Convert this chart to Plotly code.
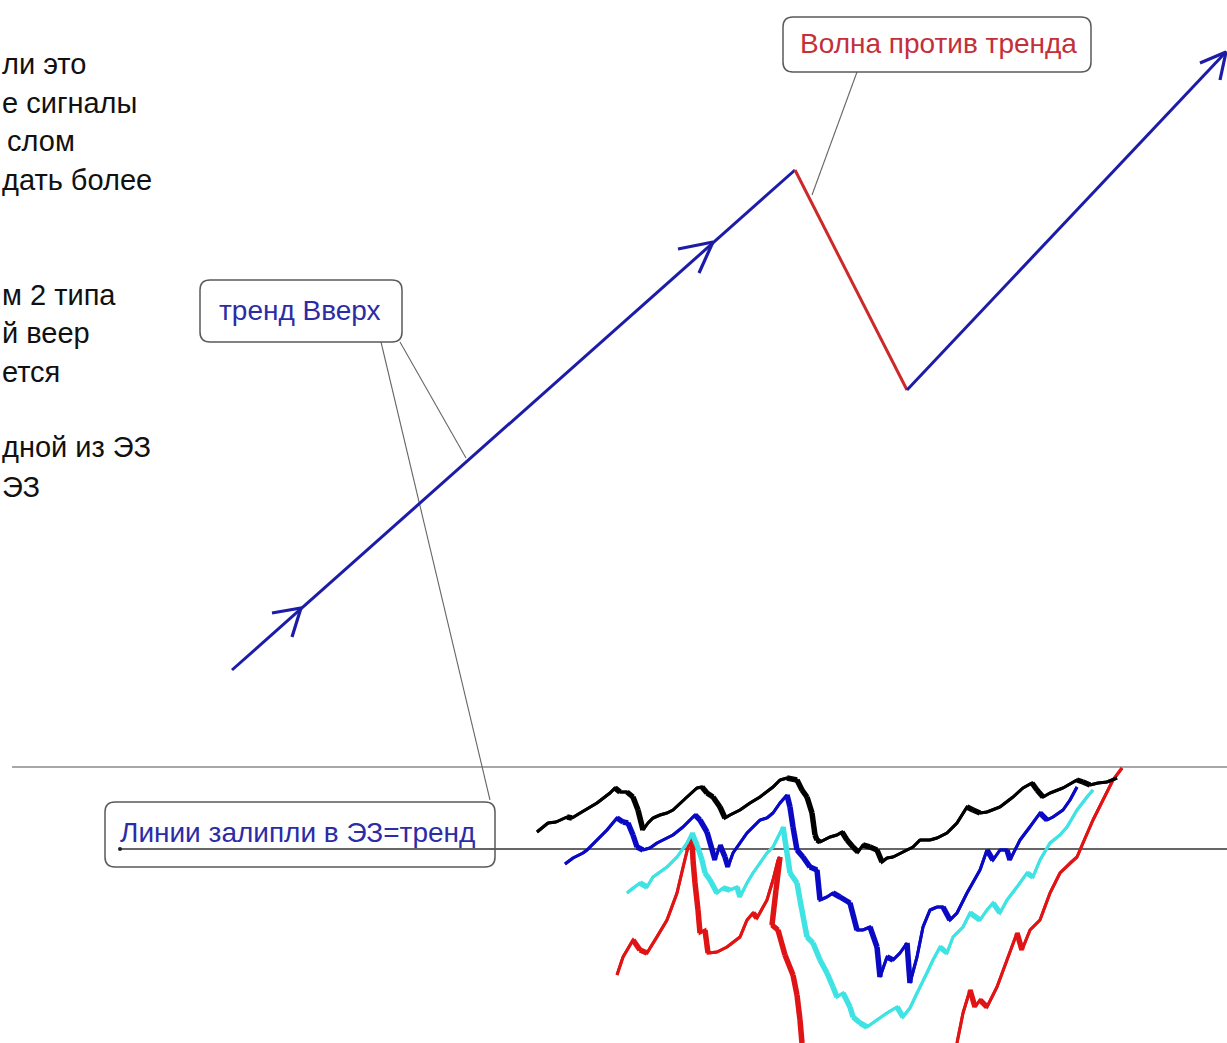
import plotly.graph_objects as go

W, H = 1227, 1043

# ---------------- data (pixel-space coordinates of the illustration) -------------
trend_x = [232, 795]
trend_y = [670, 170]
counter_x = [795, 907]
counter_y = [170, 390]
trend2_x = [907, 1225]
trend2_y = [390, 53]

arrow1_x = [272, 301, 292]
arrow1_y = [613, 608, 637]
arrow2_x = [678, 713, 699]
arrow2_y = [249, 242, 273]
arrow3_x = [1200, 1226, 1220]
arrow3_y = [63, 52, 80]

black_x = [537, 548, 556, 567, 572, 580, 597, 610, 615, 620, 627, 633, 638, 643, 648, 653, 660, 667, 673,
           687, 697, 702, 707, 713, 720, 725, 730, 740, 750, 760, 773, 780, 787, 797, 802, 807, 812, 815,
           817, 820, 830, 837, 842, 847, 853, 858, 863, 870, 877, 882, 887, 893, 903, 913, 920, 930, 937,
           947, 957, 967, 973, 980, 987, 1000, 1013, 1023, 1032, 1037, 1043, 1050, 1063, 1077, 1083, 1090,
           1098, 1107, 1117]
black_y = [832, 823, 822, 817, 818, 813, 803, 793, 788, 792, 792, 797, 810, 830, 823, 818, 815, 813, 810,
           797, 788, 787, 793, 797, 807, 818, 815, 810, 803, 797, 787, 780, 778, 780, 790, 797, 813, 835,
           840, 842, 837, 835, 832, 840, 847, 852, 845, 847, 850, 862, 858, 857, 852, 847, 840, 840, 838,
           833, 823, 807, 810, 813, 812, 807, 797, 788, 783, 790, 797, 793, 788, 780, 782, 785, 783, 782, 778]

blue_x = [565, 573, 583, 587, 597, 607, 617, 623, 628, 633, 637, 643, 650, 657, 663, 673, 683, 690, 695,
          700, 707, 715, 720, 725, 728, 733, 740, 747, 753, 760, 767, 773, 780, 787, 790, 793, 797, 803,
          810, 817, 820, 827, 833, 840, 850, 857, 863, 870, 877, 880, 887, 893, 900, 907, 910, 917, 923,
          930, 937, 943, 950, 957, 967, 980, 987, 993, 1000, 1007, 1010, 1020, 1030, 1040, 1047, 1053,
          1063, 1070, 1077]
blue_y = [864, 858, 853, 850, 840, 830, 818, 822, 823, 835, 847, 850, 848, 843, 840, 835, 827, 820, 815,
          820, 832, 860, 845, 857, 867, 853, 843, 833, 827, 820, 818, 813, 803, 795, 807, 827, 850, 857,
          867, 870, 900, 897, 893, 897, 903, 930, 930, 927, 947, 977, 957, 960, 953, 943, 983, 957, 927,
          910, 907, 907, 920, 913, 893, 870, 850, 860, 850, 850, 860, 840, 827, 813, 820, 817, 810, 800, 787]

cyan_x = [627, 633, 640, 647, 653, 667, 677, 687, 692, 697, 702, 705, 710, 717, 723, 730, 737, 740, 747,
          753, 760, 767, 773, 778, 783, 787, 790, 797, 800, 807, 813, 820, 827, 833, 837, 843, 850, 853,
          860, 867, 877, 887, 897, 903, 910, 917, 927, 933, 940, 947, 953, 963, 970, 980, 987, 993, 1000,
          1007, 1017, 1027, 1033, 1040, 1050, 1060, 1067, 1077, 1087, 1093]
cyan_y = [893, 888, 883, 887, 877, 867, 857, 843, 833, 845, 860, 873, 880, 893, 888, 890, 887, 897, 883,
          873, 863, 853, 847, 837, 827, 853, 873, 883, 900, 937, 943, 960, 973, 987, 997, 993, 1007, 1017,
          1023, 1027, 1020, 1013, 1007, 1017, 1008, 993, 973, 960, 947, 953, 937, 927, 913, 920, 910, 903,
          913, 900, 887, 873, 877, 860, 843, 835, 827, 810, 797, 790]

red_x = [617, 623, 633, 640, 647, 657, 667, 677, 683, 688, 692, 693, 695, 698, 700, 705, 708, 717, 727,
         740, 747, 753, 757, 767, 773, 778, 780, 776, 772, 778, 785, 793, 797, 800, 802,
         None,
         957, 963, 970, 975, 980, 987, 997, 1007, 1017, 1022, 1030, 1040, 1050, 1060, 1070, 1077, 1083,
         1093, 1103, 1113, 1122]
red_y = [975, 957, 940, 950, 953, 937, 920, 893, 867, 847, 837, 860, 883, 910, 933, 930, 953, 952, 947,
         937, 920, 913, 918, 900, 880, 860, 857, 890, 925, 930, 955, 975, 995, 1020, 1043,
         None,
         1043, 1013, 990, 1007, 1000, 1007, 987, 960, 933, 950, 930, 920, 893, 873, 863, 857, 843,
         820, 800, 780, 768]

upper_level_x = [12, 1227]
upper_level_y = [767, 767]
lower_level_x = [120, 1227]
lower_level_y = [849, 849]

pointer_lines = [((857, 72), (812, 195)), ((381, 342), (490, 800)), ((400, 342), (466, 458))]

labels = [
    ("Волна против тренда", 938, 43, "#c4303a", (783, 1091, 17, 72)),
    ("тренд Вверх", 300, 310, "#2c2ca6", (200, 402, 280, 342)),
    ("Линии залипли в ЭЗ=тренд", 297, 832, "#2c2ca6", (105, 495, 802, 867)),
]

side_text = ["ли это", "е сигналы", "слом", "дать более", "м 2 типа", "й веер", "ется", "дной из ЭЗ", "ЭЗ"]
side_left = [0, 0, 5, 0, 0, 0, 0, 0, 0]
side_y = [64, 103, 141, 180, 295, 333, 372, 447, 487]

# ---------------- figure ----------------
fig = go.Figure()


def line(x, y, color, width):
    fig.add_trace(go.Scatter(x=x, y=y, mode="lines", line=dict(color=color, width=width),
                             hoverinfo="skip", showlegend=False, connectgaps=False))


def split_by_direction(x, y):
    """Split a polyline into rising (thin) and falling (thick) segment groups."""
    up_x, up_y, dn_x, dn_y = [], [], [], []
    for i in range(len(x) - 1):
        if x[i] is None or x[i + 1] is None:
            continue
        if y[i + 1] <= y[i]:
            up_x += [x[i], x[i + 1], None]
            up_y += [y[i], y[i + 1], None]
        else:
            dn_x += [x[i], x[i + 1], None]
            dn_y += [y[i], y[i + 1], None]
    return up_x, up_y, dn_x, dn_y


def wiggle(x, y, color):
    ux, uy, dx, dy = split_by_direction(x, y)
    line(x, y, color, 3)
    line(ux, uy, color, 3)
    line(dx, dy, color, 5.5)


line(upper_level_x, upper_level_y, "#8a8a8a", 1.6)
line(lower_level_x, lower_level_y, "#333333", 1.6)

for (x0, y0), (x1, y1) in pointer_lines:
    line([x0, x1], [y0, y1], "#666666", 1.1)

line(trend_x, trend_y, "#1c1ca8", 3)
line(counter_x, counter_y, "#cc2a2a", 3)
line(trend2_x, trend2_y, "#1c1ca8", 3)
for ax, ay in [(arrow1_x, arrow1_y), (arrow2_x, arrow2_y), (arrow3_x, arrow3_y)]:
    line(ax, ay, "#1c1ca8", 3.2)

wiggle(red_x, red_y, "#e01414")
wiggle(cyan_x, cyan_y, "#3fe3e3")
wiggle(blue_x, blue_y, "#0a0ac4")
wiggle(black_x, black_y, "#000000")

fig.add_trace(go.Scatter(x=[120], y=[849], mode="markers", marker=dict(color="#222", size=4),
                         hoverinfo="skip", showlegend=False))


def rounded_rect(x0, x1, y0, y1, r=10):
    return (f"M {x0+r},{y0} L {x1-r},{y0} Q {x1},{y0} {x1},{y0+r} L {x1},{y1-r} "
            f"Q {x1},{y1} {x1-r},{y1} L {x0+r},{y1} Q {x0},{y1} {x0},{y1-r} "
            f"L {x0},{y0+r} Q {x0},{y0} {x0+r},{y0} Z")


shapes = []
annotations = []
for text, cx, cy, color, (x0, x1, y0, y1) in labels:
    shapes.append(dict(type="path", path=rounded_rect(x0, x1, y0, y1), xref="x", yref="y",
                       line=dict(color="#5a5a5a", width=1.5), fillcolor="rgba(0,0,0,0)", layer="above"))
    annotations.append(dict(text=text, x=cx, y=cy, xref="x", yref="y", showarrow=False,
                            font=dict(family="Liberation Sans, Arial, sans-serif", size=28, color=color)))

for t, xl, yc in zip(side_text, side_left, side_y):
    annotations.append(dict(text=t, x=0, xref="paper", xshift=xl, y=yc, yref="y",
                            xanchor="left", yanchor="middle", showarrow=False,
                            font=dict(family="Liberation Sans, Arial, sans-serif", size=29, color="#111111")))

fig.update_layout(
    width=W, height=H,
    margin=dict(l=0, r=0, t=0, b=0),
    paper_bgcolor="white", plot_bgcolor="white",
    xaxis=dict(range=[0, W], visible=False, fixedrange=True),
    yaxis=dict(range=[H, 0], visible=False, fixedrange=True),
    shapes=shapes, annotations=annotations,
    showlegend=False,
)

fig.write_html("out.html", config={"displayModeBar": False},
               post_script="document.body.style.margin='0';document.body.style.overflow='hidden';")
